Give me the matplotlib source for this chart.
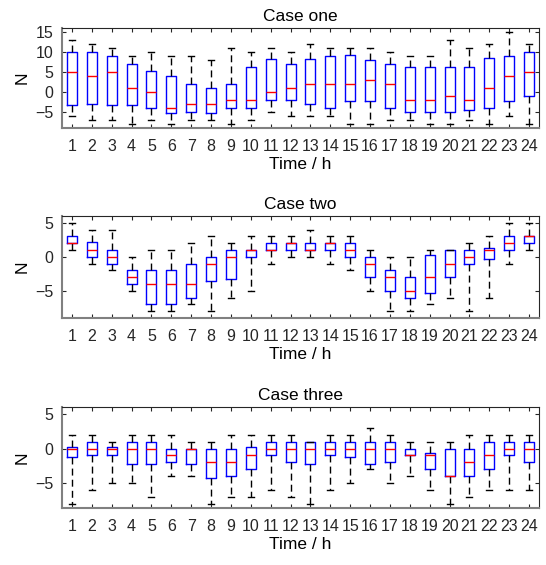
import matplotlib
matplotlib.use("Agg")
import matplotlib.pyplot as plt

plt.rcParams["font.family"] = ["Liberation Sans", "DejaVu Sans"]
plt.rcParams["font.size"] = 11.5

hours = list(range(1, 25))

# Case one: lower whisker, q1, median, q3, upper whisker
c1_lo  = [-6, -7, -7, -8, -7, -8, -7, -7, -8, -7, -5, -6, -6, -6, -8, -8, -7, -7, -8, -8, -7, -8, -6, -8]
c1_q1  = [-3.3, -3, -3.3, -3.3, -4, -5.2, -5, -5.2, -4, -4, -2, -2, -3, -4, -2.3, -2.3, -4, -5, -5, -5, -4.5, -4, -2.3, -1]
c1_med = [5, 4, 5, 1, 0, -4, -3, -3, -2, -2, 0, 1, 2, 2, 2, 3, 2, -2, -2, -1, -2, 1, 4, 5]
c1_q3  = [10, 10, 9, 7, 5.3, 4, 2, 1, 2, 6.3, 8.3, 7, 8.3, 9, 9.3, 8, 7, 6.3, 6.3, 6.3, 6.3, 8.6, 9, 10]
c1_hi  = [13, 12, 11, 9, 10, 9, 9, 8, 11, 10, 11, 10, 12, 11, 11, 11, 10, 9, 9, 13, 11, 12, 15, 12]

# Case two
c2_lo  = [1, -1, -2, -5, -8, -8, -7, -8, -6, -5, -1, 0, 0, -1, -2, -5, -8, -8, -7, -6, -8, -6, -1, 1]
c2_q1  = [2, 0, -1, -4, -7, -7, -6, -3.5, -3.2, 0, 1, 1, 1, 1, 0, -3, -5, -6, -5.3, -3, -1, -0.3, 1, 2]
c2_med = [2, 1, 0, -3, -4, -4, -4, -1, 0, 1, 1, 2, 1, 2, 1, -1, -3, -5, -3, -1, 0, 1, 2, 3]
c2_q3  = [3, 2.2, 1, -2, -2, -2, -1, 0, 1, 1, 2, 2, 2, 2, 2, 0, -2, -3, 0.2, 1, 1, 1.3, 3, 3]
c2_hi  = [5, 4, 4, 0, 1, 1, 2, 3, 2, 3, 3, 3, 4, 3, 3, 1, 0, 0, 1, 1, 2, 3, 5, 5]

# Case three
c3_lo  = [-8, -6, -5, -5, -7, -4, -4, -8, -7, -7, -6, -7, -8, -6, -5, -3, -5, -4, -6, -8, -7, -6, -6, -6]
c3_q1  = [-1.2, -1, -1, -2.2, -2.2, -2, -2.2, -4.2, -4, -3, -1, -2, -2.2, -1, -1.2, -2.2, -2, -1, -3, -4, -4, -3, -1, -2]
c3_med = [0, 0, 0, 0, 0, -1, 0, -2, -2, -1, 0, 0, 0, 0, 0, 0, 0, -1, -0.9, -4, -2, -1, 0, 0]
c3_q3  = [0.2, 1, 0.2, 1, 1, 0, 0, 0, 0, 0.2, 1, 1, 1, 1, 1, 1, 1, 0, -0.7, 0, 0, 1, 1, 1]
c3_hi  = [2, 2, 1, 2, 2, 2, 1, 1, 2, 2, 2, 2, 1, 2, 2, 3, 2, 1, 1, 1, 2, 2, 2, 2]

cases = [
    ("Case one", c1_lo, c1_q1, c1_med, c1_q3, c1_hi, (-9, 16), [-5, 0, 5, 10, 15]),
    ("Case two", c2_lo, c2_q1, c2_med, c2_q3, c2_hi, (-9, 6), [-5, 0, 5]),
    ("Case three", c3_lo, c3_q1, c3_med, c3_q3, c3_hi, (-8.6, 6), [-5, 0, 5]),
]

fig = plt.figure(figsize=(5.46, 5.65), dpi=100)
W, H = 546, 565
axes_px = [(28, 128), (216, 318), (407, 508)]
left, right = 62, 539

for (title, lo, q1, med, q3, hi, ylim, yt), (top, bot) in zip(cases, axes_px):
    ax = fig.add_axes([left / W, 1 - bot / H, (right - left) / W, (bot - top) / H])
    stats = []
    for i in range(24):
        stats.append(dict(whislo=lo[i], q1=q1[i], med=med[i], q3=q3[i],
                          whishi=hi[i], fliers=[]))
    ax.bxp(stats, positions=hours, widths=0.5, showfliers=False,
           capwidths=0.3,
           boxprops=dict(color="blue", linewidth=1),
           medianprops=dict(color="red", linewidth=1),
           whiskerprops=dict(color="black", linewidth=1, linestyle=(0, (5, 3))),
           capprops=dict(color="black", linewidth=1))
    ax.set_xlim(0.5, 24.5)
    ax.set_ylim(*ylim)
    ax.set_yticks(yt)
    ax.set_xticks(hours)
    ax.set_xticklabels([str(h) for h in hours])
    ax.set_title(title, fontsize=12.5, pad=5)
    ax.set_xlabel("Time / h", fontsize=12.5, labelpad=2)
    ax.set_ylabel("N", fontsize=12.5, labelpad=4)
    ax.tick_params(direction="in", top=True, right=True, length=3,
                   color="#262626", labelcolor="#262626")
    ax.tick_params(axis="x", pad=8)
    ax.tick_params(axis="y", pad=6)
    for s in ax.spines.values():
        s.set_color("#262626")
        s.set_linewidth(0.8)
    ax.spines["left"].set_linewidth(1.5)
    ax.spines["bottom"].set_linewidth(1.5)
    ax.spines["left"].set_color("#808080")
    ax.spines["bottom"].set_color("#808080")

fig.savefig("out.png", dpi=100)
